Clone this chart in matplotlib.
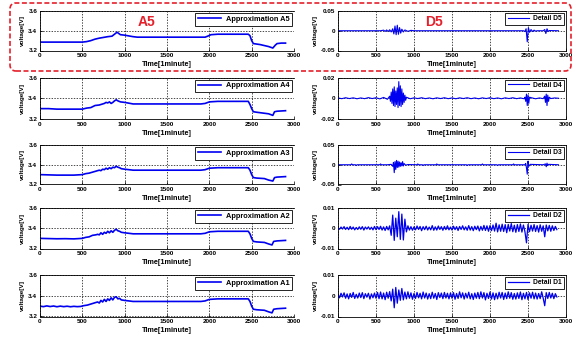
import matplotlib

matplotlib.use("Agg")
import matplotlib.pyplot as plt
from matplotlib.patches import FancyBboxPatch

plt.rcParams["font.family"] = ["Liberation Sans", "DejaVu Sans"]
plt.rcParams["font.weight"] = "bold"

# ---- data (time in minutes, voltage in V / mV) ----
x_ticks = [0, 500, 1000, 1500, 2000, 2500, 3000]

a5_t = [0, 500, 550, 600, 650, 700, 800, 850, 880, 910, 950, 1000, 1100, 1150, 1950,
        1980, 2020, 2100, 2460, 2480, 2500, 2520, 2600, 2700, 2750, 2780, 2800, 2850, 2900]
a5_v = [3.285, 3.285, 3.29, 3.30, 3.315, 3.325, 3.34, 3.345, 3.365, 3.385, 3.36, 3.355, 3.34,
        3.335, 3.335, 3.345, 3.36, 3.365, 3.365, 3.35, 3.30, 3.27, 3.26, 3.24, 3.225, 3.255,
        3.27, 3.275, 3.275]

a4_t = [0, 100, 200, 500, 550, 600, 650, 700, 720, 740, 760, 780, 800, 820, 840, 860, 880,
        900, 920, 950, 1000, 1100, 1900, 1950, 2000, 2100, 2200, 2460, 2480, 2500, 2520, 2560,
        2700, 2750, 2770, 2800, 2900]
a4_v = [3.30, 3.30, 3.295, 3.295, 3.305, 3.31, 3.33, 3.335, 3.34, 3.345, 3.35, 3.36, 3.355,
        3.365, 3.35, 3.36, 3.375, 3.385, 3.375, 3.365, 3.36, 3.345, 3.345, 3.35, 3.365, 3.37,
        3.37, 3.37, 3.34, 3.30, 3.27, 3.265, 3.25, 3.235, 3.27, 3.275, 3.28]

a3_t = [0, 200, 400, 500, 540, 580, 620, 660, 700, 720, 740, 760, 780, 800, 820, 840, 860,
        880, 900, 920, 940, 960, 1000, 1100, 1500, 1900, 1950, 2000, 2100, 2300, 2460, 2480,
        2500, 2520, 2560, 2650, 2700, 2750, 2770, 2800, 2900]
a3_v = [3.30, 3.295, 3.295, 3.30, 3.31, 3.315, 3.325, 3.335, 3.345, 3.34, 3.355, 3.35, 3.365,
        3.355, 3.37, 3.36, 3.375, 3.37, 3.385, 3.375, 3.37, 3.36, 3.355, 3.345, 3.345, 3.345,
        3.35, 3.365, 3.37, 3.37, 3.37, 3.345, 3.30, 3.27, 3.265, 3.26, 3.245, 3.235, 3.27,
        3.275, 3.28]

a2_t = [0, 100, 200, 300, 400, 500, 540, 580, 620, 660, 680, 700, 720, 740, 760, 780, 800,
        820, 840, 860, 880, 900, 920, 940, 960, 1000, 1100, 1500, 1900, 1950, 2000, 2100,
        2300, 2460, 2480, 2500, 2520, 2560, 2650, 2700, 2740, 2760, 2800, 2900]
a2_v = [3.30, 3.298, 3.296, 3.297, 3.295, 3.30, 3.31, 3.315, 3.33, 3.335, 3.34, 3.335, 3.355,
        3.34, 3.36, 3.35, 3.37, 3.355, 3.375, 3.36, 3.38, 3.39, 3.375, 3.37, 3.36, 3.355,
        3.345, 3.345, 3.345, 3.35, 3.365, 3.37, 3.37, 3.37, 3.345, 3.30, 3.27, 3.265, 3.26,
        3.245, 3.235, 3.27, 3.275, 3.28]

a1_t = [0, 40, 80, 120, 160, 200, 240, 280, 320, 360, 400, 440, 480, 520, 560, 600, 640,
        680, 700, 720, 740, 760, 780, 800, 820, 840, 860, 880, 900, 920, 940, 960, 1000,
        1100, 1500, 1900, 1950, 2000, 2100, 2300, 2460, 2480, 2500, 2520, 2560, 2650, 2700,
        2740, 2760, 2800, 2900]
a1_v = [3.30, 3.295, 3.302, 3.296, 3.301, 3.294, 3.300, 3.295, 3.299, 3.294, 3.298, 3.295,
        3.297, 3.305, 3.31, 3.32, 3.33, 3.34, 3.33, 3.355, 3.34, 3.365, 3.345, 3.37, 3.355,
        3.38, 3.36, 3.385, 3.39, 3.37, 3.375, 3.36, 3.355, 3.345, 3.345, 3.345, 3.35, 3.365,
        3.37, 3.37, 3.37, 3.345, 3.30, 3.27, 3.265, 3.26, 3.245, 3.235, 3.27, 3.275, 3.28]

# details in mV
d5_t = [0, 560, 600, 620, 640, 660, 680, 700, 720, 735, 750, 765, 780, 795, 810, 825, 840,
        860, 880, 920, 960, 1000, 2440, 2460, 2475, 2490, 2505, 2520, 2540, 2560, 2580, 2600,
        2620, 2700, 2720, 2735, 2750, 2765, 2780, 2900]
d5_mv = [0, 0, 1.5, -1.5, 2, -2, 2.5, -3, 5, -8, 12, -10, 14, -9, 8, -6, 4, -3, 2, -1.5, 1,
         0, 0, -2, 5, -28, 8, -4, 3, -2, 1.5, -1, 0, 0, 3, -7, 5, -2, 0.5, 0]

d4_t = [0, 50, 100, 150, 200, 250, 300, 350, 400, 450, 500, 550, 600, 650,
        680, 690, 700, 710, 720, 730, 740, 750, 760, 770, 780, 790, 800, 810, 820, 830, 840,
        850, 860, 870, 880, 890, 900,
        950, 1000, 1050, 1100, 1150, 1200, 1250, 1300, 1350, 1400, 1450, 1500, 1550, 1600,
        1650, 1700, 1750, 1800, 1850, 1900, 1950, 2000, 2050, 2100, 2150, 2200, 2250, 2300,
        2350, 2400, 2450,
        2460, 2470, 2480, 2490, 2500, 2510, 2520, 2550, 2600, 2650, 2700,
        2720, 2730, 2740, 2750, 2760, 2770, 2780, 2800, 2850, 2900]
d4_mv = [0.3, -0.4, 0.5, -0.3, 0.4, -0.5, 0.3, -0.4, 0.6, -0.3, 0.5, -0.6, 0.8, -1.0,
         2, -3, 6, -5, 9, -7, 11, -8, 7, -6, 10, -9, 16, -7, 12, -8, 9, -6, 5, -4, 3, -2, 1,
         -0.5, 0.4, -0.3, 0.5, -0.4, 0.3, -0.5, 0.4, -0.3, 0.5, -0.4, 0.3, -0.5, 0.4, -0.3,
         0.5, -0.4, 0.3, -0.5, 0.4, -0.3, 0.5, -0.4, 0.3, -0.5, 0.4, -0.3, 0.5, -0.4, 0.3,
         -0.5,
         1, -3, 4, -7, 3, -5, 1, 0.4, -0.5, 0.3, -0.4,
         2, -4, 4, -7, 3, -3, 1, -0.3, 0.3, 0]

d3_t = [0, 170, 180, 190, 230, 240, 250, 550, 560, 570, 650, 700, 720, 730, 740, 750, 760,
        770, 780, 790, 800, 810, 820, 830, 840, 850, 860, 870, 890, 920, 1040, 1050, 1060,
        1110, 1120, 1130, 1290, 1300, 1310, 1690, 1700, 1710, 1890, 1900, 1910, 2090, 2100,
        2110, 2300, 2310, 2320, 2460, 2470, 2480, 2490, 2500, 2510, 2530, 2700, 2730, 2740,
        2750, 2760, 2770, 2900]
d3_mv = [0, 0, 2, 0, 0, -2, 0, 0, 2, 0, 0, 1, -4, 6, -20, 8, -12, 11, -7, 9, -6, 7, -4, 5,
         -3, 8, -3, 3, -1, 0.5, 0, 2, 0, 0, -2, 0, 0, 2, 0, 0, -2, 0, 0, 2, 0, 0, -2, 0, 0, 2,
         0, 0, 3, -8, -24, 9, -4, 1, 0, 2, -5, 4, -2, 1, 0]

# D2 and D1 are sampled every 20 minutes from 0 to 2880
dense_t = list(range(0, 2900, 20))
d2_mv = [0.2, -0.5, 0.6, -0.4, 0.8, -0.6, 0.5, -0.7, 0.9, -0.5, 0.6, -0.8, 0.4, -0.6, 0.7,
         -0.5, 0.8, -0.9, 0.6, -0.4, 0.7, -0.6, 0.5, -0.8, 0.9,
         -0.7, 0.8, -0.6, 1.0, -0.9, 0.7, -1.1, 0.9, -0.8, 1.2,
         -3.5, 6.5, -6.0, 5.0, -4.2, 8.2, -5.5, 7.0, -5.8, 4.5,
         -1.8, 1.2, -0.9, 0.8, -1.0, 0.7, -0.8, 1.1, -0.6, 0.9, -1.2, 0.8, -0.7, 1.0, -0.9,
         0.6, -0.8, 1.3, -1.0, 0.7, -0.9, 1.1, -0.6, 0.8, -1.0, 0.9, -0.7, 1.2, -0.8, 0.6,
         -0.9, 1.0, -0.7, 0.8, -1.1, 0.9, -0.6, 1.2, -0.8, 0.7, -1.0, 1.3, -0.9, 0.8, -1.2,
         1.0, -0.7, 1.1, -1.3, 0.9, -1.0, 1.4, -1.1, 1.2, -1.5,
         1.3, -1.2, 1.6, -1.4, 2.5, -1.8, 1.7, -1.5, 2.0, -1.6, 1.8, -2.2, 1.9, -1.4, 2.3,
         -1.7, 1.5, -2.0, 1.8, -1.6, 2.1, -1.9, 1.6, -1.8, -7.2,
         1.9, -1.7, 1.5, -1.4, 1.8, -1.6, 1.3, -1.9, 1.7, -1.5, 1.2, -4.2, 1.6, -1.3, 1.4,
         -1.5, 1.2, -1.1, 0.9, -0.7]
d1_mv = [0.8, -1.0, 1.2, -0.6, 1.4, -1.2, 0.9, -1.5, 1.1, -0.8, 1.6, -1.3, 0.7, -1.1, 1.3,
         -0.9, 1.5, -1.4, 1.0, -0.7, 1.2, -1.6, 0.9, -1.0, 1.3,
         -1.2, 1.6, -1.4, 1.8, -1.5, 1.3, -1.9, 1.7, -1.2, 2.0,
         -2.5, 3.2, -5.8, 4.0, -3.6, 2.8, -2.2, 3.5, -2.0, 1.8,
         -1.5, 1.9, -1.2, 1.4, -1.7, 1.1, -1.3, 1.6, -1.0, 1.2, -1.5, 1.8, -1.1, 1.3, -1.6,
         1.0, -1.4, 1.7, -1.2, 1.1, -1.8, 1.5, -0.9, 1.3, -1.4, 1.6, -1.1, 1.2, -1.5, 1.4,
         -1.2, 1.5, -1.7, 1.1, -1.3, 1.9, -1.0, 1.4, -1.6, 1.2, -1.1, 1.7, -1.5, 1.0, -1.8,
         1.3, -1.2, 1.6, -1.4, 1.9, -1.1, 1.5, -2.0, 1.2, -1.3,
         1.8, -1.6, 1.4, -1.9, 1.2, -1.5, 1.7, -1.1, 1.6, -1.8, 1.3, -1.4, 1.9, -1.2, 1.5,
         -1.7, 1.1, -1.6, 1.4, -1.3, 1.8, -1.9, 1.2, -1.5, 1.6,
         -1.8, 1.4, -1.2, 1.7, -1.5, 1.3, -1.6, 1.1, -1.4, 1.9, -1.2, -4.8, 1.5, -1.3, 1.6,
         -1.1, 1.2, -1.4, 1.0, -0.6]

approx = [("Approximation A5", a5_t, a5_v), ("Approximation A4", a4_t, a4_v),
          ("Approximation A3", a3_t, a3_v), ("Approximation A2", a2_t, a2_v),
          ("Approximation A1", a1_t, a1_v)]
details = [("Detail D5", d5_t, d5_mv, 0.05, ["-0.05", "0", "0.05"], 0.8),
           ("Detail D4", d4_t, d4_mv, 0.02, ["-0.02", "0", "0.02"], 0.8),
           ("Detail D3", d3_t, d3_mv, 0.05, ["-0.05", "0", "0.05"], 0.8),
           ("Detail D2", dense_t, d2_mv, 0.01, ["-0.01", "0", "0.01"], 0.9),
           ("Detail D1", dense_t, d1_mv, 0.01, ["-0.01", "0", "0.01"], 0.9)]

# ---- layout (pixels of a 574x338 canvas) ----
W, H = 574, 338
ROW_TOP = [11, 77.5, 145, 208, 275]
ROW_BOT = [50.5, 119, 184.5, 248.5, 316.5]
BLUE = "#0000f0"
RED = "#e5202b"


def px_axes(fig, left, right, top, bottom):
    return fig.add_axes([left / W, 1 - bottom / H, (right - left) / W, (bottom - top) / H])


def style_axes(ax, legend_size):
    ax.set_xlim(0, 3000)
    ax.set_xticks(x_ticks)
    ax.tick_params(direction="in", length=2, width=0.5, labelsize=4.6, pad=2)
    ax.grid(True, color="black", linestyle=(0, (2, 2)), linewidth=0.5)
    for spine in ax.spines.values():
        spine.set_linewidth(0.6)
    ax.set_xlabel("Time[1minute]", fontsize=5.2, fontweight="bold", labelpad=2.2)
    ax.set_ylabel("voltage[V]", fontsize=4.6, fontweight="bold", labelpad=2)
    leg = ax.legend(loc="upper right", fontsize=legend_size, fancybox=False, framealpha=1,
                    edgecolor="black", borderaxespad=0.3, borderpad=0.35,
                    handlelength=3.2, handletextpad=0.6)
    leg.get_frame().set_linewidth(0.6)


fig = plt.figure(figsize=(W / 100, H / 100), dpi=100)

axes_left = []
for row, (name, t, v) in enumerate(approx):
    ax = px_axes(fig, 40, 294, ROW_TOP[row], ROW_BOT[row])
    ax.plot(t, v, color=BLUE, linewidth=1.2, label=name)
    ax.set_ylim(3.2, 3.6)
    ax.set_yticks([3.2, 3.4, 3.6])
    style_axes(ax, 5.3)
    ax.spines["right"].set_visible(False)
    axes_left.append(ax)

axes_right = []
for row, (name, t, mv, lim, labels, lw) in enumerate(details):
    ax = px_axes(fig, 338, 566, ROW_TOP[row], ROW_BOT[row])
    ax.plot(t, [m / 1000 for m in mv], color=BLUE, linewidth=lw, label=name)
    ax.set_ylim(-lim, lim)
    ax.set_yticks([-lim, 0, lim])
    ax.set_yticklabels(labels)
    style_axes(ax, 4.8)
    axes_right.append(ax)

# red highlight of the level-5 row
box = FancyBboxPatch((0.10, (H - 71) / 100), 5.61, 0.68,
                     boxstyle="round,pad=0,rounding_size=0.06",
                     transform=fig.dpi_scale_trans, facecolor="none", edgecolor=RED,
                     linewidth=1.2, linestyle=(0, (3, 1.5)), zorder=6)
fig.add_artist(box)
axes_left[0].text(0.42, 0.72, "A5", transform=axes_left[0].transAxes, color=RED,
                  fontsize=10, fontweight="bold", ha="center", va="center")
axes_right[0].text(0.42, 0.72, "D5", transform=axes_right[0].transAxes, color=RED,
                   fontsize=10, fontweight="bold", ha="center", va="center")

fig.savefig("out.png", dpi=100)
